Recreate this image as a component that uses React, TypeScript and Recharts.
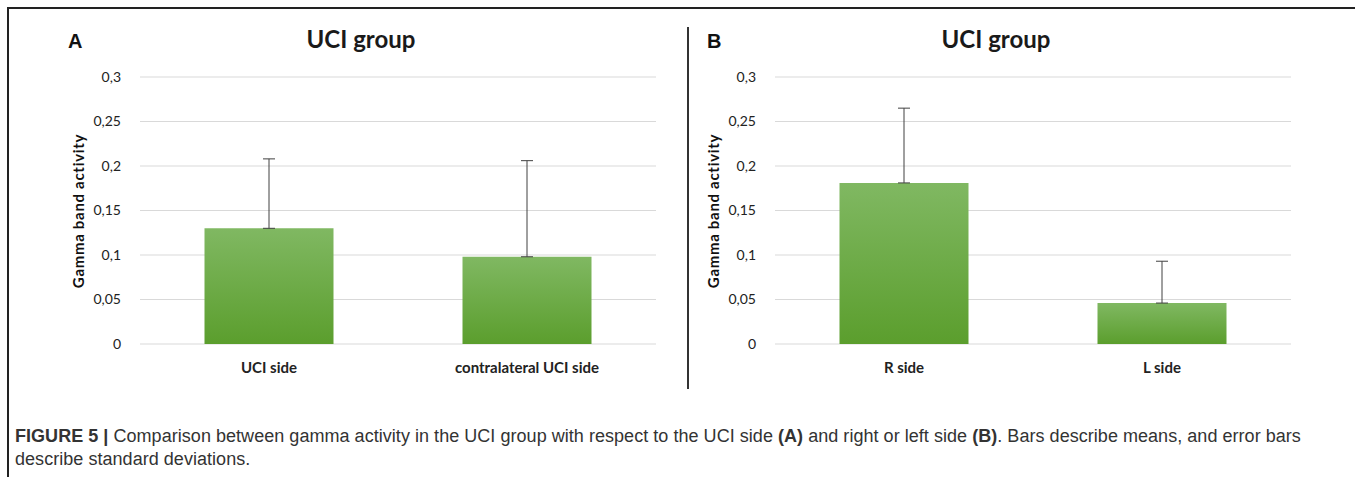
import React from 'react'
import { BarChart, Bar, XAxis, YAxis, CartesianGrid, ErrorBar } from 'recharts'

const panelACategories = ['UCI side', 'contralateral UCI side']
const panelAMeans = [0.13, 0.098]
const panelASd = [0.078, 0.108]

const panelBCategories = ['R side', 'L side']
const panelBMeans = [0.181, 0.046]
const panelBSd = [0.084, 0.047]

const yTicks = [0, 0.05, 0.1, 0.15, 0.2, 0.25, 0.3]

const chartFont = 'Lato, "Open Sans", sans-serif'

interface PanelProps {
  left: number
  letter: string
  letterX: number
  categories: string[]
  means: number[]
  sds: number[]
  gradId: string
}

function Panel({ left, letter, letterX, categories, means, sds, gradId }: PanelProps) {
  // error bars only go up: [lower, upper]
  const data = categories.map((name, i) => ({ name, mean: means[i], err: [0, sds[i]] }))

  return (
    <div style={{ position: 'absolute', left, top: 0, width: 680, height: 400 }}>
      <BarChart
        width={680}
        height={400}
        data={data}
        margin={{ top: 77, right: 24, bottom: 26, left: 80 }}
        barCategoryGap="25%"
      >
        <defs>
          <linearGradient id={gradId} x1="0" y1="0" x2="0" y2="1">
            <stop offset="0%" stopColor="#80b862" />
            <stop offset="100%" stopColor="#5b9e2d" />
          </linearGradient>
        </defs>
        <CartesianGrid vertical={false} stroke="#d9d9d9" />
        <XAxis
          dataKey="name"
          height={30}
          axisLine={false}
          tickLine={false}
          tickMargin={12}
          tick={{ fontFamily: chartFont, fontSize: 15, fontWeight: 700, fill: '#222' }}
        />
        <YAxis
          width={60}
          domain={[0, 0.3]}
          ticks={yTicks}
          axisLine={false}
          tickLine={false}
          tickMargin={13}
          tickFormatter={(v: number) => String(v).replace('.', ',')}
          tick={{ fontFamily: chartFont, fontSize: 14, fill: '#222' }}
        />
        <Bar dataKey="mean" fill={`url(#${gradId})`} isAnimationActive={false}>
          <ErrorBar dataKey="err" width={6} stroke="#404040" strokeWidth={1} direction="y" />
        </Bar>
      </BarChart>
      <div
        style={{
          position: 'absolute', left: letterX, top: 30, lineHeight: '20px',
          font: 'bold 20px "Liberation Sans", Arial, sans-serif', color: '#111',
        }}
      >
        {letter}
      </div>
      <div
        style={{
          position: 'absolute', left: 261, width: 200, top: 27, textAlign: 'center',
          fontFamily: chartFont, fontWeight: 700, fontSize: 24, lineHeight: '24px', color: '#1a1a1a',
        }}
      >
        UCI group
      </div>
      <div
        style={{
          position: 'absolute', left: -22, top: 201, width: 200, textAlign: 'center',
          fontFamily: chartFont, fontWeight: 700, fontSize: 15, lineHeight: '20px',
          letterSpacing: 0.7, color: '#111', transform: 'rotate(-90deg)', whiteSpace: 'nowrap',
        }}
      >
        Gamma band activity
      </div>
    </div>
  )
}

export default function App() {
  return (
    <div style={{ position: 'relative', width: 1355, height: 477, background: '#fff', overflow: 'hidden' }}>
      <style>{'body{margin:0}'}</style>
      {/* figure frame */}
      <div style={{ position: 'absolute', left: 7, top: 7, width: 1348, height: 2, background: '#222' }} />
      <div style={{ position: 'absolute', left: 7, top: 7, width: 2, height: 470, background: '#222' }} />
      <Panel left={0} letter="A" letterX={68} categories={panelACategories} means={panelAMeans} sds={panelASd} gradId="gA" />
      <Panel left={635} letter="B" letterX={72} categories={panelBCategories} means={panelBMeans} sds={panelBSd} gradId="gB" />
      {/* divider between panels */}
      <div style={{ position: 'absolute', left: 687, top: 27, width: 2, height: 362, background: '#333' }} />
      <div
        style={{
          position: 'absolute', left: 15, top: 425, fontFamily: '"Liberation Sans", Arial, sans-serif',
          fontSize: 18, lineHeight: '23px', letterSpacing: 0.04, color: '#333', whiteSpace: 'nowrap',
        }}
      >
        <b>FIGURE 5 |</b> Comparison between gamma activity in the UCI group with respect to the UCI side <b>(A)</b> and
        right or left side <b>(B)</b>. Bars describe means, and error bars
        <br />
        describe standard deviations.
      </div>
    </div>
  )
}
